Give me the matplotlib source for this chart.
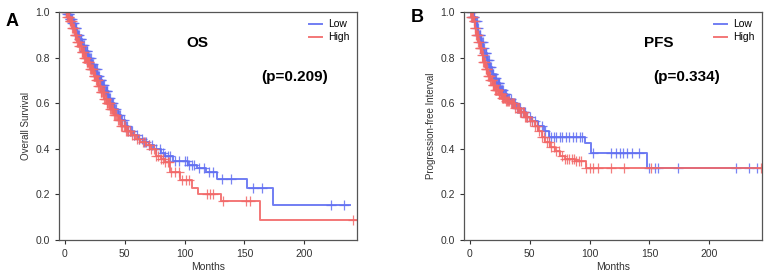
import numpy as np
import matplotlib
matplotlib.use('Agg')
import matplotlib.pyplot as plt

plt.rcParams['font.family'] = ['Liberation Sans', 'DejaVu Sans']

# ---- OS (panel A) ----
os_low_t = [0, 2, 4, 6, 8, 10, 12, 14, 16, 19, 22, 24, 27, 29, 31, 33, 36, 38, 41, 44, 47, 50,
            53, 57, 61, 65, 70, 74, 80, 84, 90, 103, 110, 118, 127, 152, 174]
os_low_s = [1.0, 0.99, 0.97, 0.95, 0.93, 0.90, 0.88, 0.855, 0.83, 0.80, 0.77, 0.75, 0.72, 0.70,
            0.68, 0.655, 0.625, 0.60, 0.575, 0.55, 0.525, 0.50, 0.48, 0.46, 0.445, 0.43, 0.415,
            0.40, 0.38, 0.37, 0.346, 0.33, 0.314, 0.30, 0.267, 0.227, 0.153]
os_low_end = 238
os_low_cens = [1, 1.5, 2, 2.5, 3, 3.5, 4, 4.5, 5, 5.5, 6, 6.5, 7, 7.5, 8, 8.5, 9, 9.5, 10, 10.5,
               11, 11.5, 12, 12.5, 13, 13.5, 14, 14.5, 15, 15.5, 16, 16.5, 17, 17.5, 18, 18.5,
               19, 19.5, 20, 20.5, 21, 21.5, 22, 22.5, 23, 23.5, 24, 24.5, 25, 25.5, 26, 26.5,
               27, 27.5, 28, 28.5, 29, 29.5, 30, 30.5, 31, 31.5, 32, 32.5, 33, 33.5, 34, 34.5,
               35, 35.5, 36, 36.5, 37, 37.5, 38, 38.5, 39, 39.5, 40, 41, 42, 43, 44, 45, 46, 47,
               48, 49, 50, 51, 52, 53, 54, 55, 56, 58, 60, 62, 64, 66, 68, 70, 73, 76, 79, 82, 84,
               86, 88, 92, 95, 100, 102, 104, 106, 108, 112, 116, 120, 124, 131, 139, 157, 165,
               222, 233]

os_high_t = [0, 2, 4, 6, 8, 10, 12, 14, 16, 18, 21, 24, 26, 28, 30, 33, 35, 38, 41, 44, 47, 51,
             55, 59, 63, 68, 72, 76, 80, 84, 88, 96, 106, 111, 130, 163]
os_high_s = [1.0, 0.98, 0.96, 0.93, 0.90, 0.87, 0.85, 0.825, 0.80, 0.78, 0.75, 0.72, 0.70, 0.675,
             0.65, 0.62, 0.60, 0.575, 0.55, 0.525, 0.50, 0.48, 0.46, 0.445, 0.43, 0.415, 0.40,
             0.37, 0.355, 0.34, 0.30, 0.263, 0.23, 0.20, 0.172, 0.088]
os_high_end = 243
os_high_cens = [0.5, 1, 1.5, 2, 2.5, 3, 3.5, 4, 4.5, 5, 5.5, 6, 6.5, 7, 7.5, 8, 8.5, 9, 9.5, 10,
                10.5, 11, 11.5, 12, 12.5, 13, 13.5, 14, 14.5, 15, 15.5, 16, 16.5, 17, 17.5, 18,
                18.5, 19, 19.5, 20, 20.5, 21, 21.5, 22, 22.5, 23, 23.5, 24, 24.5, 25, 25.5, 26,
                26.5, 27, 27.5, 28, 28.5, 29, 29.5, 30, 30.5, 31, 31.5, 32, 32.5, 33, 33.5, 34,
                34.5, 35, 35.5, 36, 36.5, 37, 37.5, 38, 38.5, 39, 39.5, 40, 41, 42, 43, 44, 45, 46,
                47, 48, 49, 50, 51, 52, 53, 54, 56, 58, 60, 62, 65, 67, 70, 72, 74, 76, 78, 80, 82,
                84, 86, 87, 89, 92, 95, 98, 101, 104, 119, 121, 124, 132, 151, 155, 241]

# ---- PFS (panel B) ----
pfs_low_t = [0, 2, 4, 6, 7, 9, 11, 12, 14, 16, 18, 20, 22, 25, 28, 31, 35, 39, 43, 47, 52, 57,
             62, 66, 96, 101, 148]
pfs_low_s = [1.0, 0.98, 0.96, 0.93, 0.90, 0.87, 0.84, 0.82, 0.79, 0.76, 0.73, 0.71, 0.69, 0.66,
             0.64, 0.62, 0.60, 0.58, 0.56, 0.54, 0.52, 0.50, 0.48, 0.453, 0.424, 0.38, 0.314]
pfs_low_end = 240
pfs_low_cens = [1, 1.5, 2, 2.5, 3, 3.5, 4, 4.5, 5, 5.5, 6, 6.5, 7, 7.5, 8, 8.5, 9, 9.5, 10, 10.5,
                11, 11.5, 12, 12.5, 13, 13.5, 14, 14.5, 15, 15.5, 16, 16.5, 17, 17.5, 18, 18.5,
                19, 19.5, 20, 20.5, 21, 21.5, 22, 22.5, 23, 23.5, 24, 24.5, 25, 25.5, 26, 26.5,
                27, 27.5, 28, 28.5, 29, 29.5, 30, 31, 32, 33, 34, 35, 36, 37, 38, 39, 40, 41, 42,
                43, 44, 45, 46, 48, 50, 52, 54, 57, 60, 63, 66, 68, 70, 72, 75, 77, 80, 83, 86,
                89, 92, 94, 103, 118, 122, 125, 128, 131, 135, 141, 150, 155, 157, 174, 222, 233,
                240]

pfs_high_t = [0, 1, 3, 4, 5, 7, 8, 10, 11, 13, 15, 17, 19, 21, 24, 27, 30, 34, 38, 42, 46, 50,
              54, 57, 60, 63, 67, 71, 75, 79, 88, 97]
pfs_high_s = [1.0, 0.98, 0.96, 0.93, 0.90, 0.87, 0.84, 0.81, 0.78, 0.75, 0.72, 0.70, 0.68, 0.66,
              0.64, 0.625, 0.61, 0.60, 0.58, 0.56, 0.54, 0.52, 0.50, 0.48, 0.45, 0.43, 0.41, 0.39,
              0.37, 0.355, 0.345, 0.314]
pfs_high_end = 244
pfs_high_cens = [0.5, 1, 1.5, 2, 2.5, 3, 3.5, 4, 4.5, 5, 5.5, 6, 6.5, 7, 7.5, 8, 8.5, 9, 9.5, 10,
                 10.5, 11, 11.5, 12, 12.5, 13, 13.5, 14, 14.5, 15, 15.5, 16, 16.5, 17, 17.5, 18,
                 18.5, 19, 19.5, 20, 20.5, 21, 21.5, 22, 22.5, 23, 23.5, 24, 24.5, 25, 25.5, 26,
                 26.5, 27, 27.5, 28, 28.5, 29, 29.5, 30, 31, 32, 33, 34, 35, 36, 37, 38, 39, 40,
                 41, 42, 43, 44, 45, 46, 47, 48, 50, 52, 54, 56, 58, 60, 62, 64, 66, 68, 70, 72,
                 74, 77, 79, 81, 83, 85, 87, 89, 91, 93, 97, 100, 103, 107, 118, 129, 151, 243]

blue = '#6270f2'
red = '#f26868'


def km(ax, t, s, end, cens, color, label):
    t = np.array(t + [end], dtype=float)
    s = np.array(s + [s[-1]], dtype=float)
    ax.step(t, s, where='post', color=color, lw=1.4, alpha=0.9, label=label)
    c = np.array(cens, dtype=float)
    cy = s[np.searchsorted(t, c, side='right') - 1]
    ax.plot(c, cy, ls='none', marker='+', ms=7.5, mew=0.9, color=color, alpha=0.85)


fig = plt.figure(figsize=(7.7, 2.75), dpi=100)
axA = fig.add_axes([0.0766, 0.1273, 0.387, 0.829])
axB = fig.add_axes([0.6026, 0.1273, 0.387, 0.829])

km(axA, os_low_t, os_low_s, os_low_end, os_low_cens, blue, 'Low')
km(axA, os_high_t, os_high_s, os_high_end, os_high_cens, red, 'High')
km(axB, pfs_low_t, pfs_low_s, pfs_low_end, pfs_low_cens, blue, 'Low')
km(axB, pfs_high_t, pfs_high_s, pfs_high_end, pfs_high_cens, red, 'High')

for ax, ylab in [(axA, 'Overall Survival'), (axB, 'Progression-free Interval')]:
    ax.set_xlim(-5, 244)
    ax.set_ylim(0, 1.0)
    ax.set_xticks([0, 50, 100, 150, 200])
    ax.set_yticks([0.0, 0.2, 0.4, 0.6, 0.8, 1.0])
    ax.tick_params(labelsize=7.5, colors='#333333', length=3, width=0.8)
    ax.set_xlabel('Months', fontsize=7.5, color='#333333', labelpad=2)
    ax.set_ylabel(ylab, fontsize=7, color='#333333', labelpad=3)
    for sp in ax.spines.values():
        sp.set_color('#555555')
        sp.set_linewidth(0.9)
    ax.legend(loc='upper right', frameon=False, fontsize=7.5, handlelength=1.3,
              handletextpad=0.6, labelspacing=0.3, borderaxespad=0.3)

axA.text(111, 0.864, 'OS', fontsize=11, fontweight='bold', ha='center', va='center')
axA.text(192, 0.715, '(p=0.209)', fontsize=11, fontweight='bold', ha='center', va='center')
axB.text(158, 0.864, 'PFS', fontsize=11, fontweight='bold', ha='center', va='center')
axB.text(181, 0.715, '(p=0.334)', fontsize=11, fontweight='bold', ha='center', va='center')

fig.text(12 / 770, 1 - 21 / 275, 'A', fontsize=13, fontweight='bold', ha='center', va='center')
fig.text(417 / 770, 1 - 17 / 275, 'B', fontsize=13, fontweight='bold', ha='center', va='center')

fig.savefig('out.png', dpi=100)
